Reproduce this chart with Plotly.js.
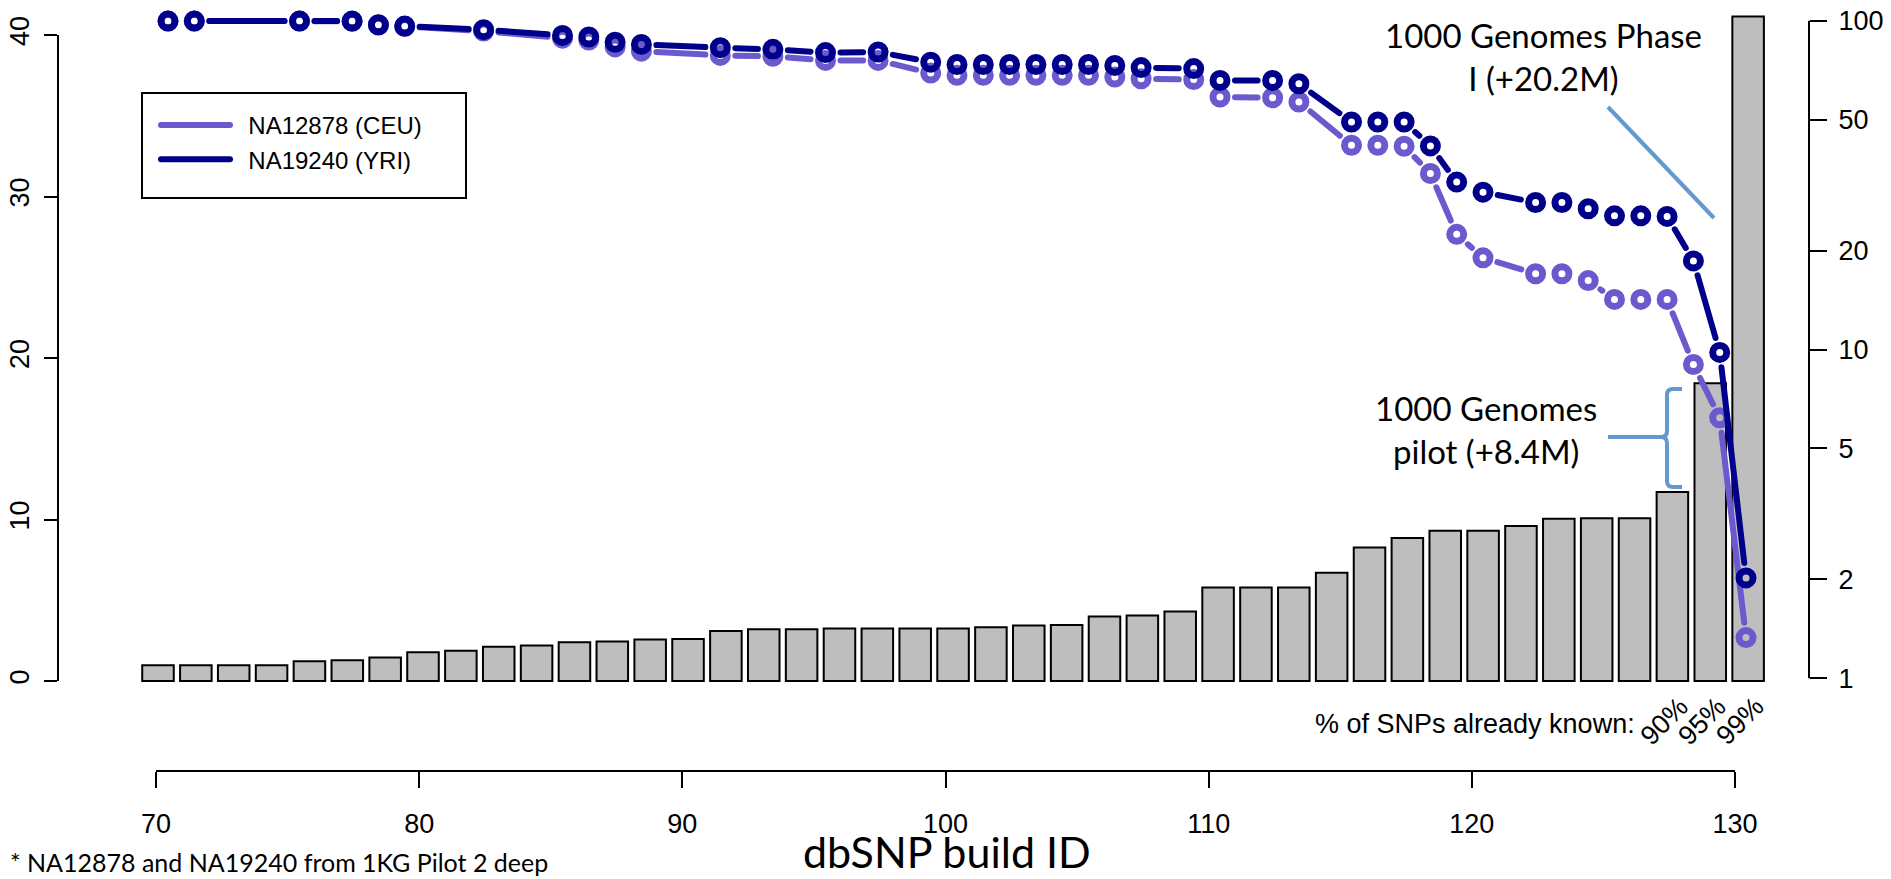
<!DOCTYPE html>
<html><head><meta charset="utf-8">
<script src="https://cdn.plot.ly/plotly-3.0.1.min.js"></script>
<style>html,body{margin:0;padding:0;background:#fff;}#chart{width:1891px;height:879px;}
#chart .js-line{stroke-linecap:round;}</style>
</head><body><div id="chart"></div>
<script>
// dbSNP builds (one bar / one point per build)
const builds = [70,71,75,77,78,79,82,85,86,87,88,91,93,95,97,99,100,101,102,103,104,105,106,107,109,110,112,113,115,116,117,118,119,120,122,123,124,125,126,127,128,129,130];
// dbSNP size (millions of SNPs, left axis)
const dbsnpSize = [0.98,0.98,0.98,0.98,1.22,1.29,1.45,1.78,1.87,2.12,2.2,2.4,2.45,2.57,2.6,3.09,3.2,3.2,3.25,3.25,3.25,3.25,3.33,3.44,3.46,4.0,4.05,4.3,5.79,5.79,5.79,6.7,8.26,8.86,9.3,9.3,9.6,10.04,10.08,10.08,11.7,18.44,41.15];
// % novel SNPs (right log axis)
const novelCEU = [99.7,99.7,99.7,99.6,97.0,96.0,93.0,88.5,87.3,83.2,80.8,78.4,77.9,75.7,75.7,69.3,68.2,68.2,68.2,68.2,68.2,68.2,67.4,66.6,66.2,58.6,58.3,56.6,41.8,41.8,41.5,34.3,22.4,19.0,17.0,17.0,16.2,14.2,14.2,14.2,9.0,6.2,1.33];
const novelYRI = [99.7,99.7,99.7,99.7,97.2,96.3,93.9,90.2,89.2,86.0,84.7,82.8,81.8,80.0,80.3,74.8,73.6,73.6,73.6,73.6,73.6,73.6,73.1,72.0,71.5,65.8,65.8,64.3,49.2,49.2,49.2,41.6,32.3,30.1,28.0,28.0,26.8,25.5,25.5,25.4,18.6,9.8,2.02];
const seriesNames = ['NA12878 (CEU)','NA19240 (YRI)'];
const xTicks = [70,80,90,100,110,120,130];
const leftTicks = [0,10,20,30,40];
const rightTicks = [1,2,5,10,20,50,100];
const knownLabels = ['90%','95%','99%'];
const knownBuilds = [128,129,130];

const colCEU = '#6A5ACD', colYRI = '#00008B', annCol = '#6399CE';
const M = {l:58, r:82, t:5, b:108};
const FW = 1891, FH = 879;
const W = FW - M.l - M.r, H = FH - M.t - M.b;
const px2x = p => (p - M.l) / W;
const px2y = p => (FH - M.b - p) / H;

const xRange = [66.276, 132.812];   // visible build axis
const xPtsRange = [65.817, 132.395]; // points
const xBarRange = [-2.641, 43.608];  // bar categories
const yRange = [-5.573, 41.858];
const y2Range = [-0.2819, 2.0477];

function gapped(xs, vs, gap) {
  const kx = W / (xPtsRange[1] - xPtsRange[0]);
  const ky = H / (y2Range[1] - y2Range[0]);
  const X = [], Y = [];
  for (let i = 0; i < xs.length - 1; i++) {
    const x1 = xs[i], x2 = xs[i+1], l1 = Math.log10(vs[i]), l2 = Math.log10(vs[i+1]);
    const L = Math.hypot((x2 - x1) * kx, (l2 - l1) * ky);
    if (L <= 2 * gap + 2) continue;
    const f1 = gap / L, f2 = 1 - gap / L;
    X.push(x1 + f1 * (x2 - x1), x1 + f2 * (x2 - x1), null);
    Y.push(Math.pow(10, l1 + f1 * (l2 - l1)), Math.pow(10, l1 + f2 * (l2 - l1)), null);
  }
  return {X, Y};
}
const segCEU = gapped(builds, novelCEU, 15);
const segYRI = gapped(builds, novelYRI, 15);

const tickFont = {family:'Liberation Sans, Arial, sans-serif', size:27, color:'#000'};
const calFont = (s) => ({family:'Lato, Carlito, sans-serif', size:s, color:'#000'});
const pad = '\u00a0\u00a0';

const traces = [
  {type:'bar', x: builds.map(String), y: dbsnpSize, xaxis:'x2', yaxis:'y', width:0.833,
   marker:{color:'#BEBEBE', line:{color:'#000', width:2}}, showlegend:false, hoverinfo:'skip'},
  {type:'scatter', mode:'lines', x: segCEU.X, y: segCEU.Y, xaxis:'x3', yaxis:'y2', connectgaps:false,
   line:{color:colCEU, width:6}, name: pad + seriesNames[0]},
  {type:'scatter', mode:'markers', x: builds, y: novelCEU, xaxis:'x3', yaxis:'y2',
   marker:{symbol:'circle-open', size:14, color:colCEU, line:{width:7, color:colCEU}}, showlegend:false},
  {type:'scatter', mode:'lines', x: segYRI.X, y: segYRI.Y, xaxis:'x3', yaxis:'y2', connectgaps:false,
   line:{color:colYRI, width:6}, name: pad + seriesNames[1]},
  {type:'scatter', mode:'markers', x: builds, y: novelYRI, xaxis:'x3', yaxis:'y2',
   marker:{symbol:'circle-open', size:14, color:colYRI, line:{width:7, color:colYRI}}, showlegend:false}
];

const bracket = (() => {
  const P = (x, y) => px2x(x).toFixed(5) + ',' + px2y(y).toFixed(5);
  return 'M' + P(1682,389) + ' L' + P(1673,389) + ' Q' + P(1667,389) + ' ' + P(1667,395) +
         ' L' + P(1667,431) + ' Q' + P(1667,437) + ' ' + P(1661,437) + ' L' + P(1608,437) +
         ' M' + P(1661,437) + ' Q' + P(1667,437) + ' ' + P(1667,443) +
         ' L' + P(1667,481) + ' Q' + P(1667,487) + ' ' + P(1673,487) + ' L' + P(1682,487);
})();

const layout = {
  width: FW, height: FH, margin: M,
  paper_bgcolor:'#fff', plot_bgcolor:'rgba(0,0,0,0)',
  font: tickFont,
  showlegend: true,
  legend: {x: px2x(156), xanchor:'left', y: px2y(103), yanchor:'top', bgcolor:'rgba(0,0,0,0)',
           borderwidth:0, font:{family:'Liberation Sans, Arial, sans-serif', size:24, color:'#000'},
           itemwidth:69, traceorder:'normal'},
  xaxis: {range:xRange, tickvals:xTicks, ticks:'outside', ticklen:16, tickwidth:2, tickcolor:'#000',
          showline:false, showgrid:false, zeroline:false, tickfont:tickFont, ticklabelstandoff:13},
  xaxis2: {type:'category', range:xBarRange, overlaying:'x', visible:true, showticklabels:false, ticks:'',
           showgrid:false, zeroline:false, showline:false},
  xaxis3: {range:xPtsRange, overlaying:'x', visible:false},
  yaxis: {range:yRange, tickvals:leftTicks, ticks:'outside', ticklen:13, tickwidth:2, tickcolor:'#000',
          showline:false, showgrid:false, zeroline:false, tickangle:-90, tickfont:tickFont, ticklabelstandoff:4},
  yaxis2: {type:'log', range:y2Range, overlaying:'y', side:'right', tickvals:rightTicks, ticktext:rightTicks.map(String),
           ticks:'outside', ticklen:17, tickwidth:2, tickcolor:'#000', showline:false, showgrid:false,
           zeroline:false, tickfont:tickFont, ticklabelstandoff:6},
  shapes: [
    {type:'line', xref:'paper', yref:'y', x0:0, x1:0, y0:leftTicks[0], y1:leftTicks[leftTicks.length-1], line:{color:'#000', width:2}},
    {type:'line', xref:'paper', yref:'y2', x0:1, x1:1, y0:rightTicks[0], y1:rightTicks[rightTicks.length-1], line:{color:'#000', width:2}},
    {type:'line', xref:'x', yref:'paper', x0:xTicks[0], x1:xTicks[xTicks.length-1], y0:0, y1:0, line:{color:'#000', width:2}},
    {type:'rect', xref:'paper', yref:'paper', x0:px2x(142), x1:px2x(466), y0:px2y(93), y1:px2y(198), line:{color:'#000', width:2}},
    {type:'line', xref:'paper', yref:'paper', x0:px2x(1608), y0:px2y(107), x1:px2x(1714), y1:px2y(218), line:{color:annCol, width:4}},
    {type:'path', xref:'paper', yref:'paper', path: bracket, line:{color:annCol, width:4}}
  ],
  annotations: [
    {xref:'paper', yref:'paper', x:px2x(947), y:px2y(879), text:'dbSNP build ID', showarrow:false,
     font:calFont(43), xanchor:'center', yanchor:'bottom'},
    {xref:'paper', yref:'paper', x:px2x(1543), y:px2y(56), text:'1000 Genomes Phase<br>I (+20.2M)', showarrow:false,
     font:calFont(33), align:'center', xanchor:'center', yanchor:'middle'},
    {xref:'paper', yref:'paper', x:px2x(1486), y:px2y(430), text:'1000 Genomes<br>pilot (+8.4M)', showarrow:false,
     font:calFont(33), align:'center', xanchor:'center', yanchor:'middle'},
    {xref:'paper', yref:'paper', x:px2x(1637), y:px2y(724), text:'% of SNPs already known:', showarrow:false,
     font:tickFont, xanchor:'right', yanchor:'middle'},
    {xref:'paper', yref:'paper', x:px2x(8), y:px2y(862), text:'* NA12878 and NA19240 from 1KG Pilot 2 deep', showarrow:false,
     font:calFont(25), xanchor:'left', yanchor:'middle'}
  ].concat(knownLabels.map((t, i) => ({xref:'x2', yref:'paper', x: builds.indexOf(knownBuilds[i]), y: px2y(721), xshift:-8,
     text:t, showarrow:false, textangle:-45, font:tickFont, xanchor:'center', yanchor:'middle'})))
};

Plotly.newPlot('chart', traces, layout, {displayModeBar:false, staticPlot:true});
</script></body></html>
